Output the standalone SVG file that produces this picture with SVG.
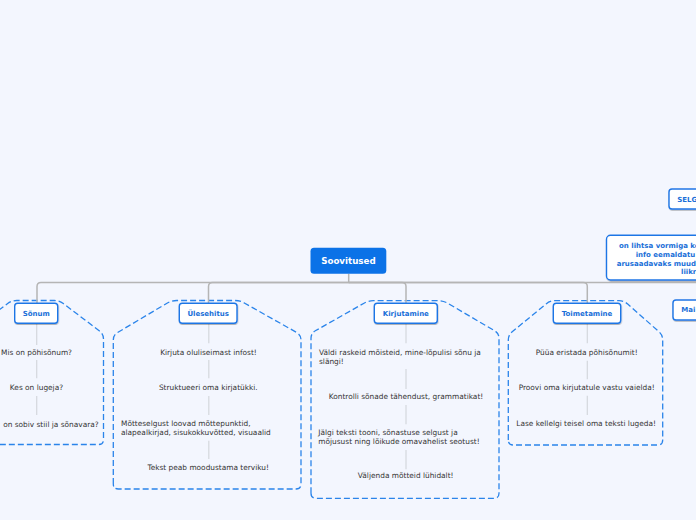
<svg xmlns="http://www.w3.org/2000/svg" width="696" height="520" viewBox="0 0 696 520">
<defs>
<filter id="sh" x="-20%" y="-30%" width="140%" height="170%">
<feDropShadow dx="0.4" dy="1" stdDeviation="0.7" flood-color="#000" flood-opacity="0.28"/>
</filter>
<style>
.bg{fill:#f3f6fe}
.main{fill:none;stroke:#b5b5b5;stroke-width:1.5}
.leafc{fill:none;stroke:#d4d7dd;stroke-width:1.2}
.grp{fill:none;stroke:#2a84ea;stroke-width:1.3;stroke-dasharray:6 3}
.hdr{fill:#fff;stroke:#1f76e6;stroke-width:1.4;filter:url(#sh)}
.ht{font-family:"DejaVu Sans",Verdana,sans-serif;font-size:7px;font-weight:bold;fill:#1a6fd8}
.lt{font-family:"DejaVu Sans",Verdana,sans-serif;font-size:7.4px;fill:#333}
.mid{text-anchor:middle}
</style>
</defs>
<rect class="bg" x="0" y="0" width="696" height="520"/>

<g id="groups">
<path class="grp" d="M -32.8 439.5 L -32.8 339 Q -32.8 334 -28.8 331 L 7.7 303.5 Q 11.7 300.5 16.7 300.5 L 54.3 300.5 Q 59.3 300.5 63.3 303.5 L 99.5 331 Q 103.5 334 103.5 339 L 103.5 439.5 Q 103.5 444.5 98.5 444.5 L -27.8 444.5 Q -32.8 444.5 -32.8 439.5 Z"/>
<path class="grp" d="M 113.3 484 L 113.3 340 Q 113.3 335 117.6 332.5 L 167.4 303 Q 171.7 300.5 176.7 300.5 L 235 300.5 Q 240 300.5 244.3 303 L 296.7 332.5 Q 301 335 301 340 L 301 484 Q 301 489 296 489 L 118.3 489 Q 113.3 489 113.3 484 Z"/>
<path class="grp" d="M 311 493.3 L 311 338.3 Q 311 333.3 315.3 330.8 L 364 303.2 Q 368.3 300.7 373.3 300.7 L 438.3 300.7 Q 443.3 300.7 447.6 303.2 L 494.7 330.8 Q 499 333.3 499 338.3 L 499 493.3 Q 499 498.3 494 498.3 L 316 498.3 Q 311 498.3 311 493.3 Z"/>
<path class="grp" d="M 508.3 440 L 508.3 340 Q 508.3 335 512.2 331.8 L 546.1 303.9 Q 550 300.7 555 300.7 L 619 300.7 Q 624 300.7 627.7 304 L 658.9 331.7 Q 662.7 335 662.7 340 L 662.7 440 Q 662.7 445 657.7 445 L 513.3 445 Q 508.3 445 508.3 440 Z"/>
</g>

<g id="connectors">
<path class="main" d="M 348.7 273.7 L 348.7 282.5 L 41 282.5 Q 37 282.5 37 286.5 L 37 303.3"/>
<path class="main" d="M 348.7 282.5 L 212.5 282.5 Q 208.5 282.5 208.5 286.5 L 208.5 303.3"/>
<path class="main" d="M 348.7 282.5 L 402 282.5 Q 406 282.5 406 286.5 L 406 303.3"/>
<path class="main" d="M 348.7 282.5 L 583.3 282.5 Q 587.3 282.5 587.3 286.5 L 587.3 303.3"/>
<path class="main" d="M 348.7 282.5 L 700 282.5"/>
<path class="leafc" d="M 36.7 323.3 V 345 M 36.7 360 V 378.3 M 36.7 396 V 415"/>
<path class="leafc" d="M 208.8 323.3 V 343.3 M 208.8 360 V 378.3 M 208.8 396 V 415 M 208.8 440.7 V 459"/>
<path class="leafc" d="M 406 323.3 V 343.3 M 406 369 V 389 M 406 405 V 424.3 M 406 450 V 469.3"/>
<path class="leafc" d="M 587.3 323.3 V 343.3 M 587.3 360.7 V 379.3 M 587.3 395.7 V 415"/>
</g>

<g id="soovitused">
<rect x="310.5" y="247.7" width="75.8" height="26" rx="3.5" fill="#0b72e7"/>
<text x="348.4" y="263.8" class="mid" style="font-family:'DejaVu Sans',Verdana,sans-serif;font-size:8.7px;font-weight:bold;fill:#fff">Soovitused</text>
</g>

<g id="sonum">
<rect class="hdr" x="14.7" y="303.3" width="43" height="20" rx="3"/>
<text class="ht mid" x="36.2" y="315.8">Sõnum</text>
</g>
<g id="sonum-leaves">
<text class="lt mid" x="36.5" y="355.2">Mis on põhisõnum?</text>
<text class="lt mid" x="36.5" y="390">Kes on lugeja?</text>
<text class="lt" x="98.7" y="426.7" style="text-anchor:end">on sobiv stiil ja sõnavara?</text>
</g>

<g id="ulesehitus">
<rect class="hdr" x="179.3" y="303.3" width="57.7" height="20" rx="3"/>
<text class="ht mid" x="208.2" y="315.8">Ülesehitus</text>
</g>
<g id="ulesehitus-leaves">
<text class="lt mid" x="208.5" y="355">Kirjuta oluliseimast infost!</text>
<text class="lt mid" x="208.3" y="390">Struktueeri oma kirjatükki.</text>
<text class="lt" x="121" y="426.4">Mõtteselgust loovad mõttepunktid,</text>
<text class="lt" x="121" y="435.1">alapealkirjad, sisukokkuvõtted, visuaalid</text>
<text class="lt mid" x="208.2" y="470.4">Tekst peab moodustama terviku!</text>
</g>

<g id="kirjutamine">
<rect class="hdr" x="374.3" y="303.3" width="63" height="20" rx="3"/>
<text class="ht mid" x="405.8" y="315.8">Kirjutamine</text>
</g>
<g id="kirjutamine-leaves">
<text class="lt" x="319" y="355">Väldi raskeid mõisteid, mine-lõpulisi sõnu ja</text>
<text class="lt" x="319" y="363.7">slängi!</text>
<text class="lt mid" x="406" y="399.4">Kontrolli sõnade tähendust, grammatikat!</text>
<text class="lt" x="318.3" y="435">Jälgi teksti tooni, sõnastuse selgust ja</text>
<text class="lt" x="318.3" y="443.7">mõjusust ning lõikude omavahelist seotust!</text>
<text class="lt mid" x="405.7" y="478.4">Väljenda mõtteid lühidalt!</text>
</g>

<g id="toimetamine">
<rect class="hdr" x="553.3" y="303.3" width="67.4" height="20" rx="3"/>
<text class="ht mid" x="587" y="315.8">Toimetamine</text>
</g>
<g id="toimetamine-leaves">
<text class="lt mid" x="586.7" y="355">Püüa eristada põhisõnumit!</text>
<text class="lt mid" x="586.7" y="390">Proovi oma kirjutatule vastu vaielda!</text>
<text class="lt mid" x="586.2" y="426">Lase kellelgi teisel oma teksti lugeda!</text>
</g>

<g id="selg">
<rect class="hdr" x="669" y="189" width="60" height="20" rx="3"/>
<text class="ht" x="677.3" y="201.8">SELG</text>
</g>

<g id="lihtsa">
<rect class="hdr" x="606.5" y="235.3" width="120" height="44.7" rx="4"/>
<text class="ht" x="619" y="248.2">on lihtsa vormiga ke</text>
<text class="ht" x="635.7" y="256.9">info eemaldatu</text>
<text class="ht" x="616.7" y="265.8">arusaadavaks muud</text>
<text class="ht" x="681" y="274.3">liikr</text>
</g>

<g id="mai">
<rect class="hdr" x="673" y="300" width="50" height="20" rx="3"/>
<text class="ht" x="681.3" y="311.6">Mai</text>
</g>
</svg>
